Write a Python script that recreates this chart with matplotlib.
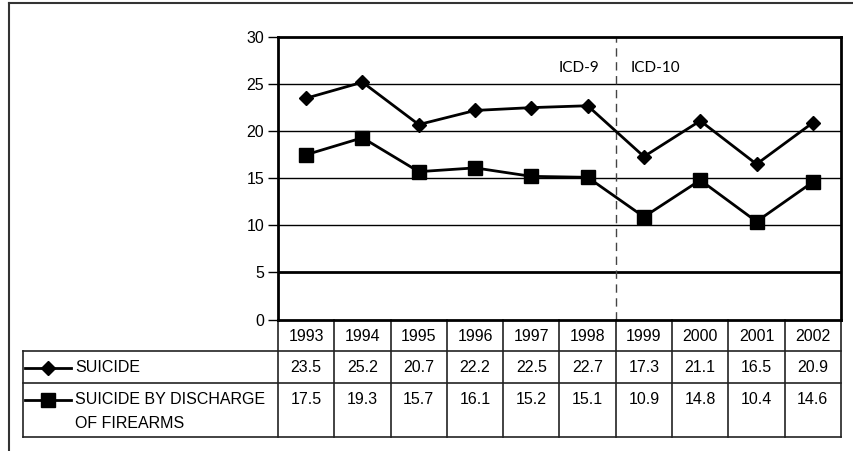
import matplotlib
matplotlib.use("Agg")
import matplotlib.pyplot as plt
from matplotlib.transforms import blended_transform_factory
from matplotlib.lines import Line2D

years = ["1993", "1994", "1995", "1996", "1997", "1998", "1999", "2000", "2001", "2002"]
suicide = [23.5, 25.2, 20.7, 22.2, 22.5, 22.7, 17.3, 21.1, 16.5, 20.9]
firearms = [17.5, 19.3, 15.7, 16.1, 15.2, 15.1, 10.9, 14.8, 10.4, 14.6]
series_labels = ["SUICIDE", "SUICIDE BY DISCHARGE", "OF FIREARMS"]
yticks = [0, 5, 10, 15, 20, 25, 30]
icd_labels = ["ICD-9", "ICD-10"]

W, H = 854, 451
plt.rcParams['font.family'] = ['Liberation Sans', 'DejaVu Sans']
fig = plt.figure(figsize=(W / 100, H / 100), dpi=100)

# overlay axes in pixel coordinates
ov = fig.add_axes([0, 0, 1, 1])
ov.set_xlim(0, W)
ov.set_ylim(H, 0)
ov.axis("off")

L, R, T, B = 278, 841, 37, 319.5
ax = fig.add_axes([L / W, (H - B) / H, (R - L) / W, (B - T) / H])
ax.set_xlim(-0.5, len(years) - 0.5)
ax.set_ylim(0, 30)
ax.set_yticks(yticks)
ax.set_yticklabels([str(v) for v in yticks], fontsize=11.5)
ax.set_xticks([])
ax.tick_params(axis="y", length=7, width=1, pad=3, color="black")
for s in ax.spines.values():
    s.set_linewidth(2)
    s.set_color("black")
for v in yticks[1:-1]:
    ax.axhline(v, color="black", lw=2 if v == 5 else 1, zorder=1)

x = list(range(len(years)))
ax.plot(x, suicide, color="black", lw=2, marker="D", markersize=7.5, zorder=3)
ax.plot(x, firearms, color="black", lw=2, marker="s", markersize=10, zorder=3)

# ICD divider
ax.axvline(5.5, color="#444444", lw=1, ls=(0, (6, 4)), zorder=2)
ax.text(5.5 - 0.3, 26.7, icd_labels[0], ha="right", va="center", fontsize=11,
        family=["Lato", "DejaVu Sans"])
ax.text(5.5 + 0.27, 26.7, icd_labels[1], ha="left", va="center", fontsize=11,
        family=["Lato", "DejaVu Sans"])

# table
tr = blended_transform_factory(ax.transData, ov.transData)
lc = "#222222"
r0, r1, r2, r3 = B, 351, 383, 437
TL = 22.7
ov.plot([TL, R], [r1, r1], color=lc, lw=1.2)
ov.plot([TL, R], [r2, r2], color=lc, lw=1.2)
ov.plot([TL, R], [r3, r3], color=lc, lw=1.2)
ov.plot([TL, TL], [r1, r3], color=lc, lw=1.2)
for i in range(len(years) + 1):
    ax.plot([i - 0.5, i - 0.5], [r0, r3], color=lc, lw=1.2, transform=tr, clip_on=False)
for i, yr in enumerate(years):
    ax.text(i, (r0 + r1) / 2 + 1, yr, transform=tr, ha="center", va="center", fontsize=11.5)
    ax.text(i, (r1 + r2) / 2 + 1, f"{suicide[i]:.1f}", transform=tr, ha="center", va="center", fontsize=11.5)
    ax.text(i, 399, f"{firearms[i]:.1f}", transform=tr, ha="center", va="center", fontsize=11.5)

# legend symbols
ov.add_line(Line2D([25, 71], [368, 368], color="black", lw=2))
ov.plot([48], [368], marker="D", color="black", markersize=7.5)
ov.add_line(Line2D([25, 71], [400, 400], color="black", lw=2))
ov.plot([48], [400], marker="s", color="black", markersize=10)
ov.text(75, 368, series_labels[0], ha="left", va="center", fontsize=11.5)
ov.text(75, 400, series_labels[1], ha="left", va="center", fontsize=11.5)
ov.text(75, 423, series_labels[2], ha="left", va="center", fontsize=11.5)

# outer border (top and left visible)
ov.plot([9, W], [3, 3], color="#333333", lw=1.5)
ov.plot([9, 9], [3, H], color="#333333", lw=1.5)

fig.savefig("out.png", dpi=100)
